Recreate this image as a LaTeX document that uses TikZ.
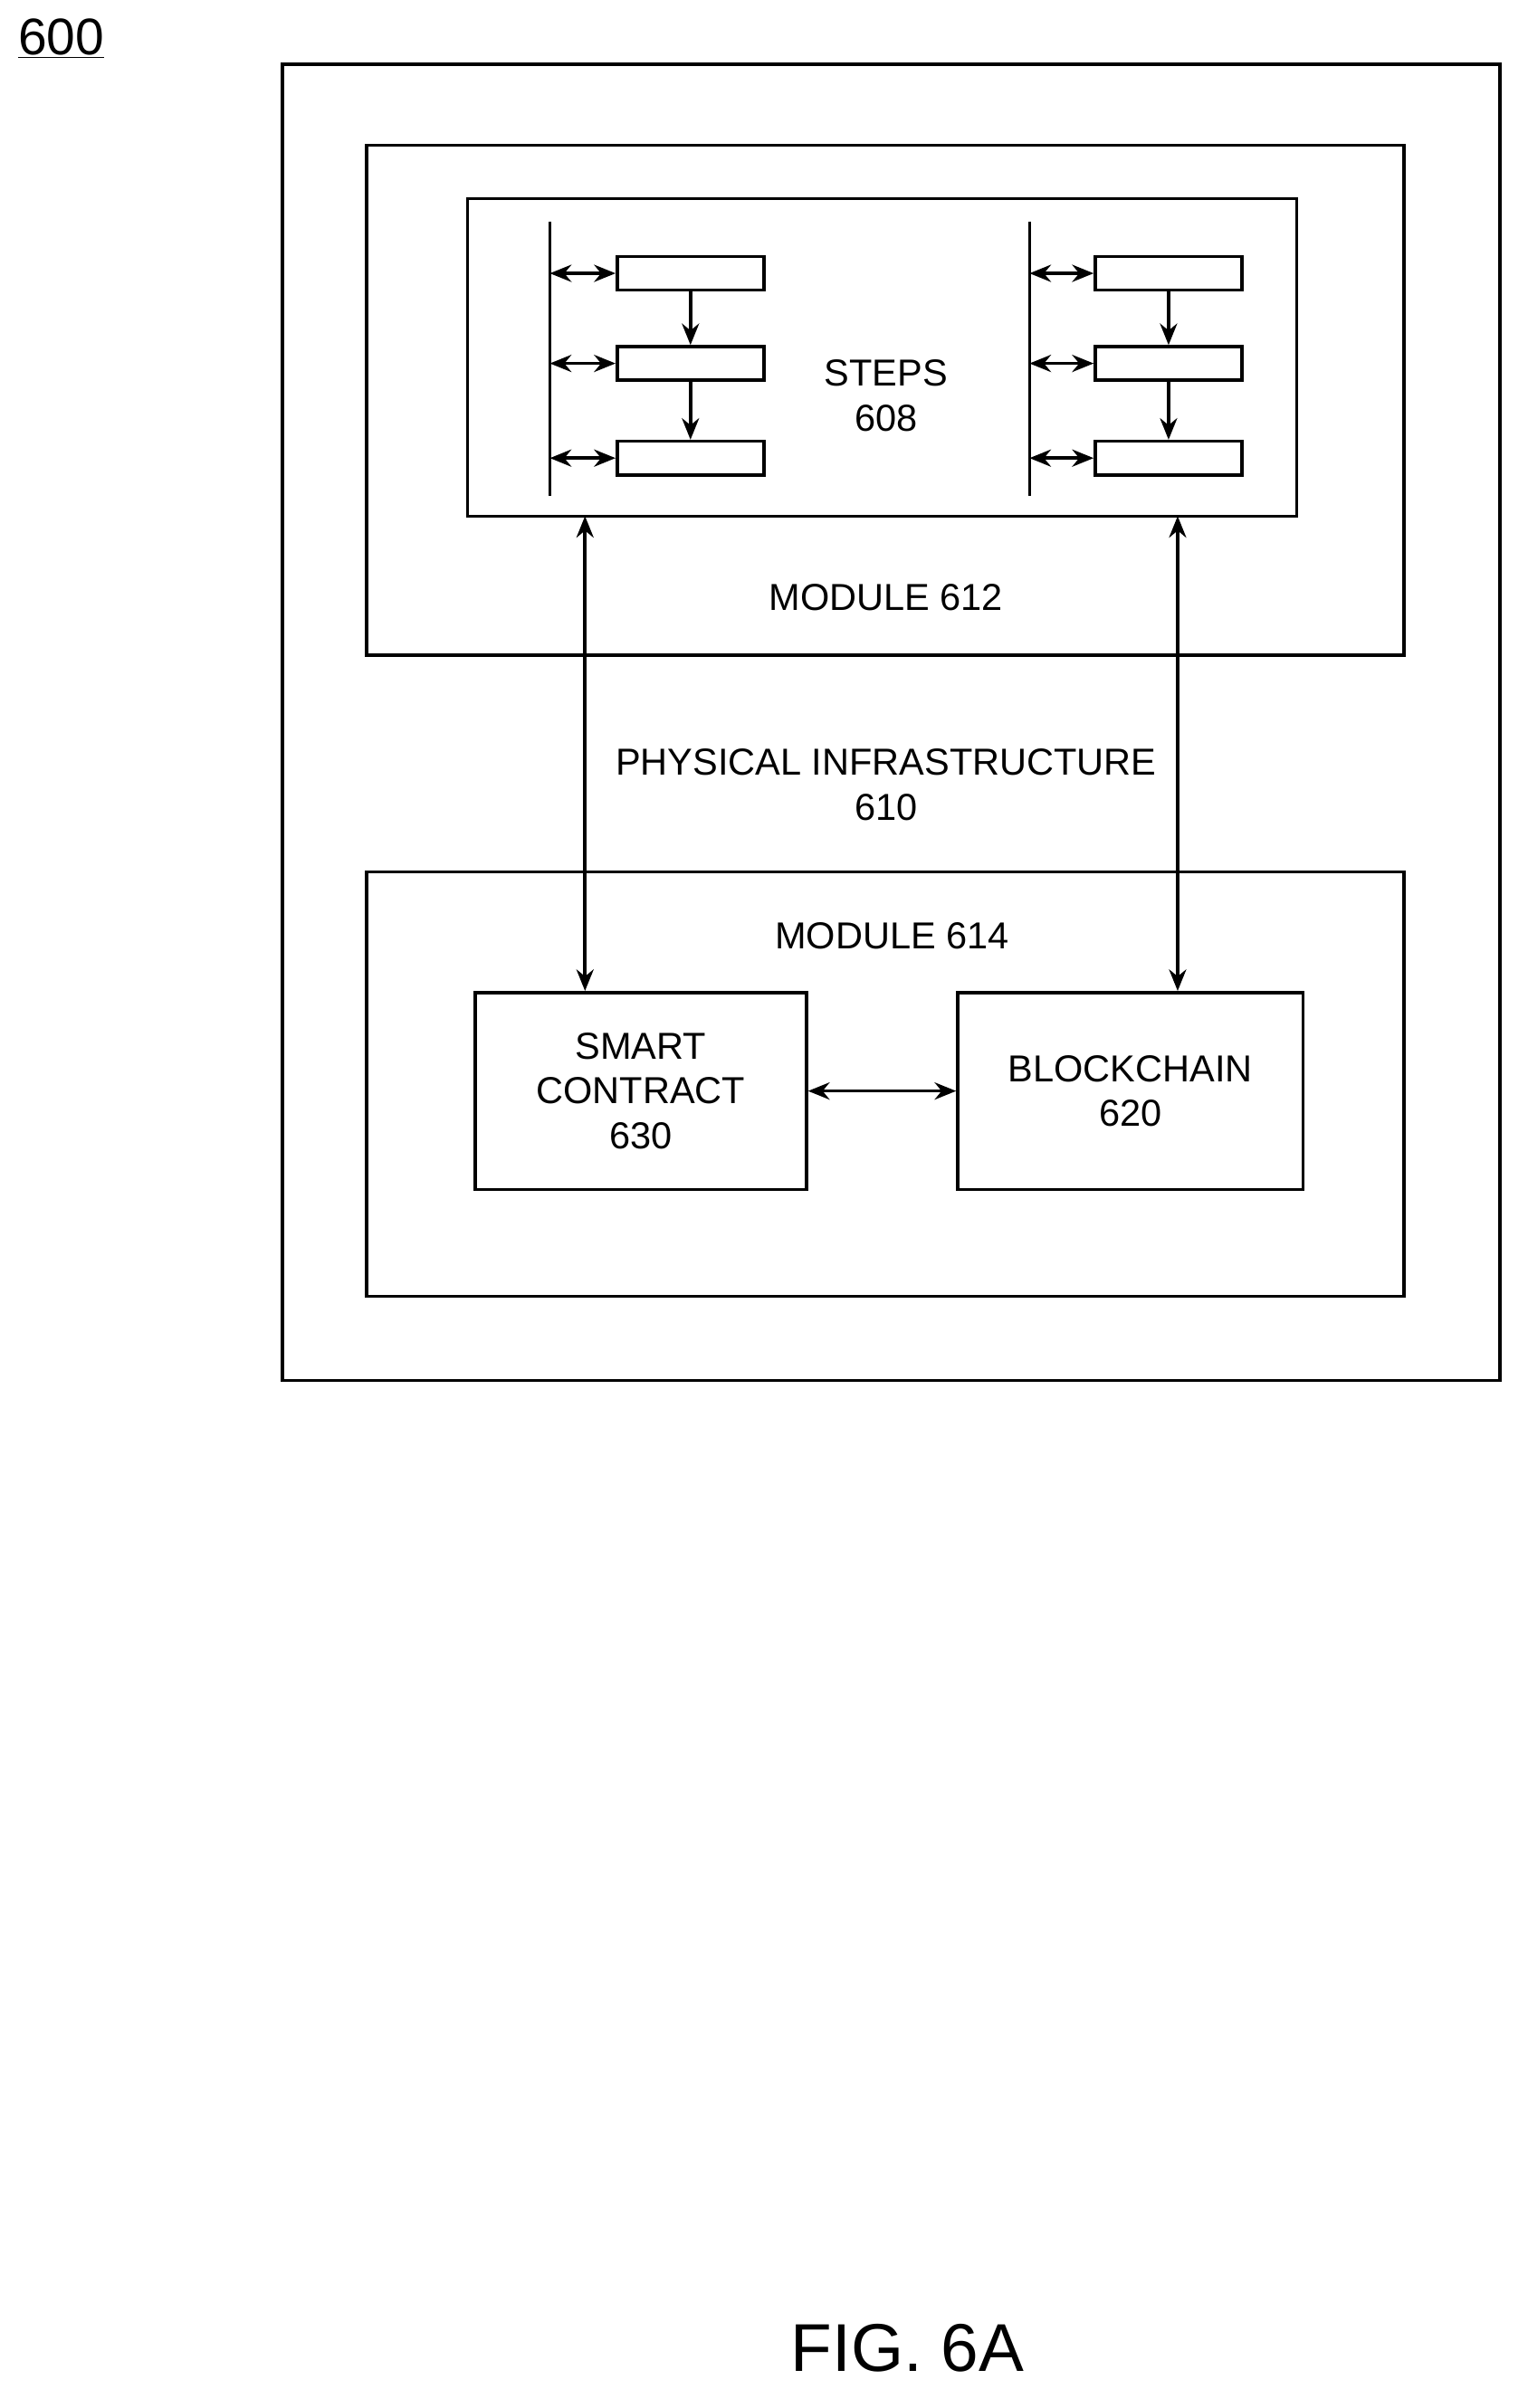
\documentclass[tikz,border=0pt]{standalone}
\usepackage{fontspec}
\setmainfont{Liberation Sans}
\usetikzlibrary{arrows.meta,positioning}
\tikzset{
  box/.style={draw=black,line width=3pt,inner sep=0pt},
  lbl/.style={font=\fontsize{35}{42}\selectfont,align=center},
  dbl/.style={line width=3pt,{Stealth[length=20pt,width=16pt]}-{Stealth[length=20pt,width=16pt]}},
  sgl/.style={line width=3pt,-{Stealth[length=20pt,width=16pt]}}
}
\begin{document}
\begin{tikzpicture}[x=0.05cm,y=-0.05cm]
\useasboundingbox (0,0) rectangle (1000,1577);
% frames
\draw[box] (185,42) rectangle (982,904);
\draw[box] (240,95) rectangle (919,429);
\draw[box] (306,130) rectangle (849,338);
\draw[box] (240,571) rectangle (919,849);
\node (ref) [font=\fontsize{48}{56}\selectfont] at (40,25) {\underline{600}};
% step lanes
\foreach \bx/\rx/\nm in {360/403/L,674/716/R}{
  \draw[line width=3pt] (\bx,145) -- (\bx,325);
  \foreach \y/\i in {179/1,238/2,300/3}{
    \node (\nm\i) [box,minimum width=4.8cm,minimum height=1.1cm,anchor=west] at (\rx,\y) {};
    \coordinate (\nm b\i) at (\bx,\y);
    \draw[dbl] (\nm b\i) -- (\nm\i.west);
  }
}
\foreach \a/\b in {L1/L2,L2/L3,R1/R2,R2/R3}{\draw[sgl] (\a.south) -- (\b.north);}
\node (steps) [lbl] at (580,259) {STEPS\\608};
\node (mod612) [lbl] at (580,391) {MODULE 612};
\node (phys) [lbl] at (580,514) {PHYSICAL INFRASTRUCTURE\\610};
\node (mod614) [lbl] at (584,613) {MODULE 614};
\node (sc) [box,lbl,minimum width=10.85cm,minimum height=6.45cm] at (419.5,714.5) {SMART\\CONTRACT\\630};
\node (bc) [box,lbl,minimum width=11.3cm,minimum height=6.45cm] at (740,714.5) {BLOCKCHAIN\\620};
\coordinate (s1) at (383,338);
\coordinate (s2) at (771,338);
\draw[dbl] (s1) -- (s1 |- sc.north);
\draw[dbl] (s2) -- (s2 |- bc.north);
\draw[dbl] (sc) -- (bc);
\node (fig) [font=\fontsize{63}{72}\selectfont] at (594,1538) {FIG. 6A};
\end{tikzpicture}
\end{document}
